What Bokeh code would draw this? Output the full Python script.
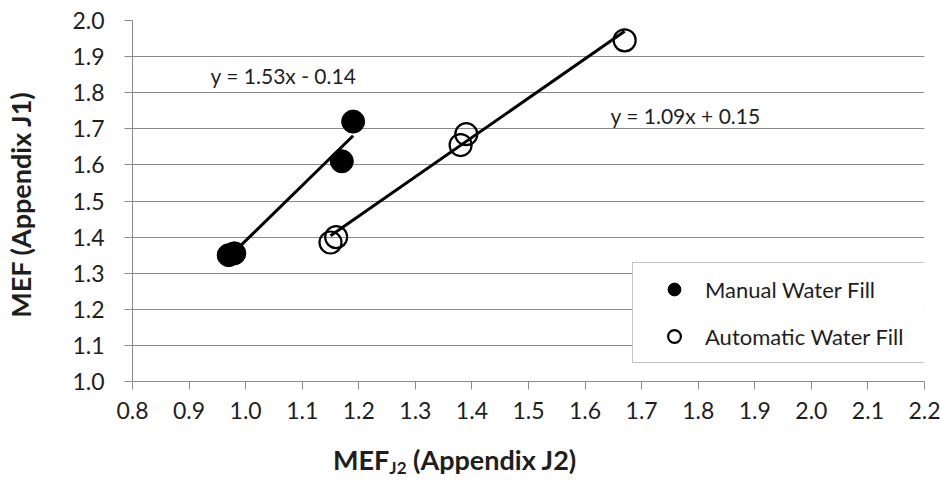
from bokeh.plotting import figure
from bokeh.layouts import column
from bokeh.models import Range1d, Label, Legend, LegendItem, FixedTicker, Div
from bokeh.embed import file_html
from bokeh.resources import INLINE

# ---- data ----
manual_x = [0.97, 0.98, 1.17, 1.19]
manual_y = [1.35, 1.355, 1.61, 1.72]
auto_x = [1.15, 1.16, 1.38, 1.39, 1.67]
auto_y = [1.385, 1.40, 1.655, 1.685, 1.945]
manual_fit = (1.53, -0.14)   # slope, intercept
auto_fit = (1.09, 0.15)
x_ticks = [0.8, 0.9, 1.0, 1.1, 1.2, 1.3, 1.4, 1.5, 1.6, 1.7, 1.8, 1.9, 2.0, 2.1, 2.2]
y_ticks = [1.0, 1.1, 1.2, 1.3, 1.4, 1.5, 1.6, 1.7, 1.8, 1.9, 2.0]
series_names = ["Manual Water Fill", "Automatic Water Fill"]

FONT = "Lato"
TXT = "#1e1e1e"
GRID = "#8a8a8a"

p = figure(width=941, height=441, output_backend="svg", toolbar_location=None,
           x_range=Range1d(x_ticks[0], x_ticks[-1]), y_range=Range1d(y_ticks[0], y_ticks[-1]),
           min_border_left=132, min_border_right=17, min_border_top=20, min_border_bottom=60)
p.outline_line_color = None
p.background_fill_color = "white"
p.border_fill_color = "white"

# axes
p.xaxis.ticker = FixedTicker(ticks=x_ticks)
p.yaxis.ticker = FixedTicker(ticks=y_ticks)
p.xaxis.major_label_overrides = {t: f"{t:.1f}" for t in x_ticks}
p.yaxis.major_label_overrides = {t: f"{t:.1f}" for t in y_ticks}
for ax in (p.xaxis, p.yaxis):
    ax.axis_line_color = GRID
    ax.major_tick_line_color = GRID
    ax.major_tick_in = 0
    ax.major_tick_out = 8
    ax.minor_tick_line_color = None
    ax.major_label_text_font = FONT
    ax.major_label_text_font_size = "23px"
    ax.major_label_text_color = TXT
p.xaxis.major_label_standoff = 12
p.yaxis.major_label_standoff = 20

p.yaxis.axis_label = "MEF  (Appendix J1)"
p.yaxis.axis_label_text_font = FONT
p.yaxis.axis_label_text_font_style = "bold"
p.yaxis.axis_label_text_font_size = "27px"
p.yaxis.axis_label_text_color = TXT
p.yaxis.axis_label_standoff = 32

p.xgrid.grid_line_color = None
p.ygrid.ticker = FixedTicker(ticks=y_ticks)
p.ygrid.grid_line_color = GRID
p.ygrid.grid_line_width = 1

# fit lines (from the fit equations over each series' x span)
mx = [min(manual_x), max(manual_x)]
ax_ = [min(auto_x), max(auto_x)]
p.line(mx, [manual_fit[0] * v + manual_fit[1] for v in mx], line_color="black", line_width=3)
p.line(ax_, [auto_fit[0] * v + auto_fit[1] for v in ax_], line_color="black", line_width=3)

r_manual = p.scatter(manual_x, manual_y, size=23, marker="circle",
                     fill_color="black", line_color="black", line_width=1)
r_auto = p.scatter(auto_x, auto_y, size=22, marker="circle",
                   fill_color=None, line_color="black", line_width=2.2)

# equation labels
p.add_layout(Label(x=0.938, y=1.848, text=f"y = {manual_fit[0]:.2f}x - {abs(manual_fit[1]):.2f}",
                   text_font=FONT, text_font_size="21px", text_color=TXT, text_baseline="middle"))
p.add_layout(Label(x=1.645, y=1.737, text=f"y = {auto_fit[0]:.2f}x + {auto_fit[1]:.2f}",
                   text_font=FONT, text_font_size="21px", text_color=TXT, text_baseline="middle"))

# legend
legend = Legend(items=[LegendItem(label=series_names[0], renderers=[r_manual]),
                       LegendItem(label=series_names[1], renderers=[r_auto])],
                location=(500, 18), orientation="vertical",
                padding=10, margin=0, spacing=15,
                glyph_width=62, glyph_height=32, label_standoff=0, label_width=212,
                label_text_font=FONT, label_text_font_size="22px", label_text_color=TXT,
                border_line_color=GRID, border_line_width=1,
                background_fill_color="white", background_fill_alpha=1)
p.add_layout(legend)

# x axis title (with subscript) below the plot
x_title = Div(
    text=(f'<div style="padding:5px 0 0 333px; font-family:{FONT}; font-size:27px; '
          f'font-weight:bold; color:{TXT}; line-height:27px; white-space:nowrap;">'
          'MEF<sub style="font-size:17px; line-height:0; vertical-align:-4px;">J2</sub> '
          '(Appendix J2)</div>'),
    width=941, height=40, margin=(0, 0, 0, 0))

layout = column(p, x_title, spacing=0)
open("out.html", "w").write(file_html(layout, INLINE))
